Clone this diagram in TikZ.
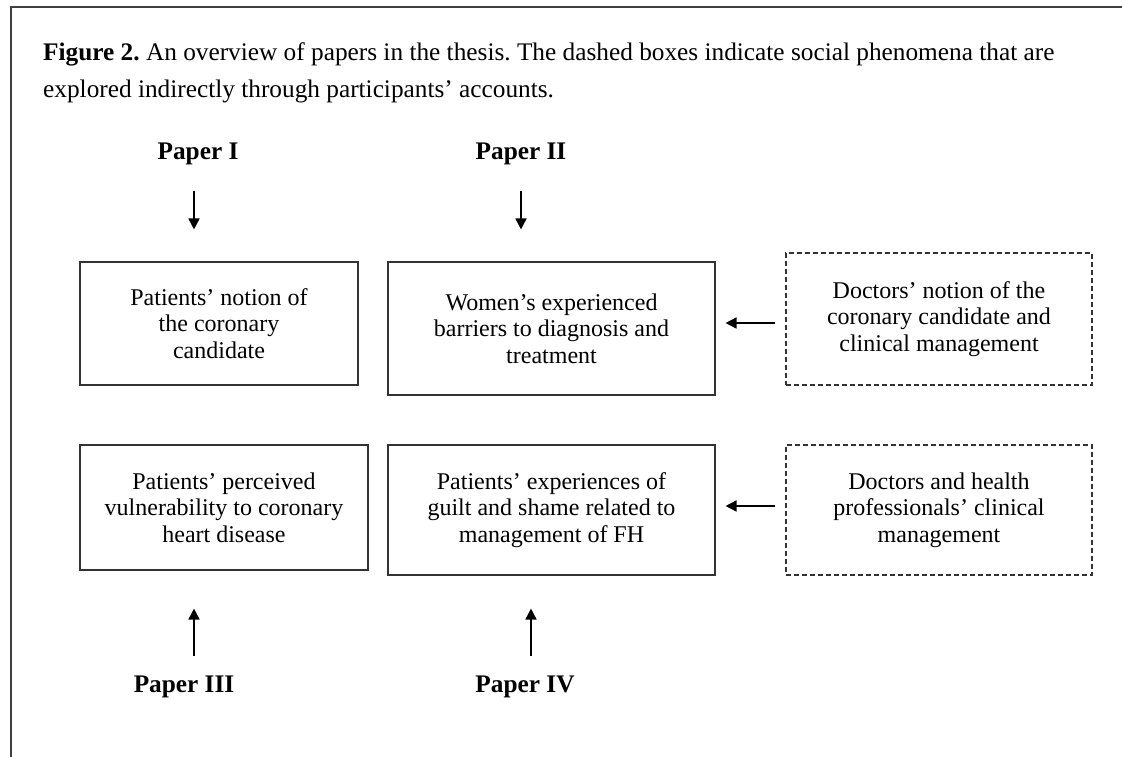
\documentclass[tikz,border=0pt]{standalone}
\usepackage{fontspec}
\setmainfont{Liberation Serif}
\usetikzlibrary{arrows.meta}
\frenchspacing
\newcommand{\boxfont}{\fontsize{24}{26.5}\selectfont}
\newcommand{\capfont}{\fontsize{25.3}{37}\selectfont}
\newcommand{\paperfont}{\fontsize{25.3}{26}\selectfont\bfseries}
\tikzset{
  frameline/.style={draw=black!75, line width=1.2pt},
  solidbox/.style={draw=black!80, line width=1.1pt, align=center, inner sep=0pt, font=\boxfont},
  dashbox/.style={solidbox, dash pattern=on 5pt off 3pt},
  arr/.style={draw=black, line width=1.6pt, -{Triangle[length=11pt,width=11pt]}},
  paperlabel/.style={inner sep=0pt, anchor=base, font=\paperfont},
  captext/.style={inner sep=0pt, anchor=base west, font=\capfont}
}
\begin{document}
\begin{tikzpicture}[x=1pt,y=-1pt]
\useasboundingbox (0,0) rectangle (1122,757);
% frame
\draw[frameline] (11,757) -- (11,7) -- (1122,7);
% caption
\node[captext] (cap1) at (43,61) {\textbf{Figure 2.} An overview of papers in the thesis. The dashed boxes indicate social phenomena that are};
\node[captext] (cap2) at (43,98) {explored indirectly through participants’ accounts.};
% paper labels
\node[paperlabel] (p1) at (198,160) {Paper I};
\node[paperlabel] (p2) at (521,160) {Paper II};
\node[paperlabel] (p3) at (184,692) {Paper III};
\node[paperlabel] (p4) at (525,692) {Paper IV};
% boxes row 1
\node[solidbox, minimum width=278pt, minimum height=123pt] (A) at (219,323.5)
  {Patients’ notion of\\ the coronary\\ candidate};
\node[solidbox, minimum width=327pt, minimum height=133pt] (B) at (551.5,328.5)
  {Women’s experienced\\ barriers to diagnosis and\\ treatment};
\node[dashbox, minimum width=306pt, minimum height=132pt] (E) at (939,319)
  {Doctors’ notion of the\\ coronary candidate and\\ clinical management};
% boxes row 2
\node[solidbox, minimum width=288pt, minimum height=125pt] (C) at (224,507.5)
  {Patients’ perceived\\ vulnerability to coronary\\ heart disease};
\node[solidbox, minimum width=327pt, minimum height=130pt] (D) at (551.5,510)
  {Patients’ experiences of\\ guilt and shame related to\\ management of FH};
\node[dashbox, minimum width=306pt, minimum height=130pt] (F) at (939,510)
  {Doctors and health\\ professionals’ clinical\\ management};
% vertical arrows
\draw[arr, shorten <=25pt, shorten >=32pt] ([xshift=-4pt]p1.south) -- ([xshift=-4pt]p1.south |- A.north);
\draw[arr, shorten <=25pt, shorten >=32pt] (p2.south) -- (p2.south |- B.north);
\draw[arr, shorten <=19pt, shorten >=38pt] ([xshift=10pt]p3.north) -- ([xshift=10pt]p3.north |- C.south);
\draw[arr, shorten <=19pt, shorten >=33pt] ([xshift=6pt]p4.north) -- ([xshift=6pt]p4.north |- D.south);
% horizontal arrows
\draw[arr, shorten <=10pt, shorten >=10pt] ([yshift=-4pt]E.west) -- ([yshift=-4pt]E.west -| B.east);
\draw[arr, shorten <=10pt, shorten >=10pt] ([yshift=4pt]F.west) -- ([yshift=4pt]F.west -| D.east);
\end{tikzpicture}
\end{document}
